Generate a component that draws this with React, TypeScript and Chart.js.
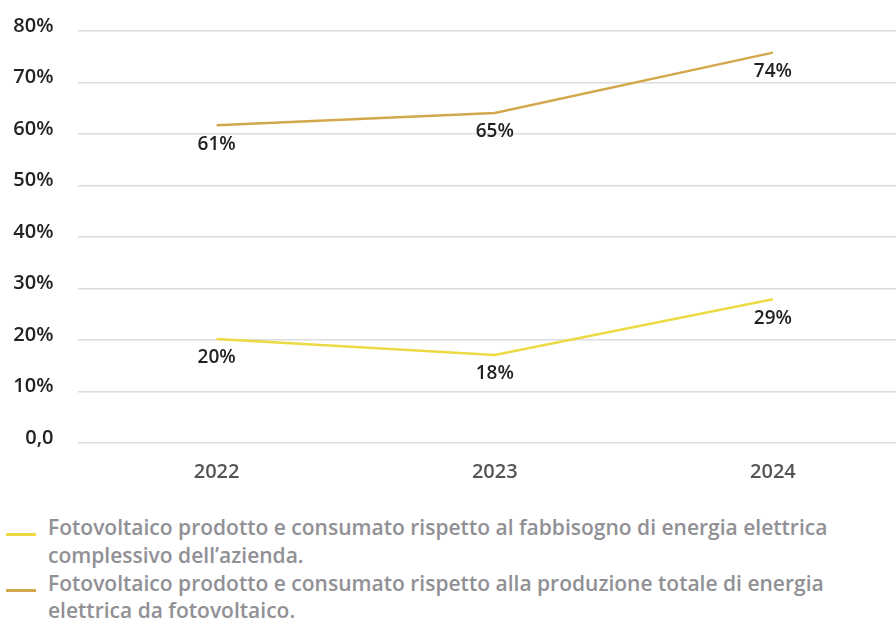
import React, { useEffect, useRef } from "react";
import { Chart, registerables } from "chart.js";

Chart.register(...registerables);

const categories = ["2022", "2023", "2024"];
const fabbisognoValues = [20.2, 17.1, 27.9];
const fabbisognoLabels = ["20%", "18%", "29%"];
const produzioneValues = [61.7, 64.1, 75.8];
const produzioneLabels = ["61%", "65%", "74%"];
const yTickLabels: Record<number, string> = { 0: "0,0", 10: "10%", 20: "20%", 30: "30%", 40: "40%", 50: "50%", 60: "60%", 70: "70%", 80: "80%" };
const legendLines1 = [
  "Fotovoltaico prodotto e consumato rispetto al fabbisogno di energia elettrica",
  "complessivo dell\u2019azienda.",
];
const legendLines2 = [
  "Fotovoltaico prodotto e consumato rispetto alla produzione totale di energia",
  "elettrica da fotovoltaico.",
];

const YELLOW = "#ecd944";
const GOLD = "#d3a84c";
const FONT = "'Open Sans', 'Noto Sans', sans-serif";

const labelPlugin = {
  id: "pointLabels",
  afterDatasetsDraw(chart: any) {
    const ctx = chart.ctx;
    ctx.save();
    ctx.font = `600 19px ${FONT}`;
    ctx.fillStyle = "#222222";
    ctx.textAlign = "center";
    ctx.textBaseline = "middle";
    chart.data.datasets.forEach((ds: any, i: number) => {
      const meta = chart.getDatasetMeta(i);
      meta.data.forEach((pt: any, j: number) => {
        ctx.fillText(ds.pointLabels[j], pt.x, pt.y + 19);
      });
    });
    ctx.restore();
  },
};

export default function App() {
  const ref = useRef<HTMLCanvasElement>(null);
  useEffect(() => {
    if (!ref.current) return;
    const chart = new Chart(ref.current, {
      type: "line",
      data: {
        labels: categories,
        datasets: [
          {
            label: legendLines1.join(" "),
            data: fabbisognoValues,
            borderColor: YELLOW,
            borderWidth: 2.5,
            pointRadius: 0,
            tension: 0,
            pointLabels: fabbisognoLabels,
          } as any,
          {
            label: legendLines2.join(" "),
            data: produzioneValues,
            borderColor: GOLD,
            borderWidth: 2.5,
            pointRadius: 0,
            tension: 0,
            pointLabels: produzioneLabels,
          } as any,
        ],
      },
      options: {
        animation: false,
        responsive: false,
        layout: { padding: { top: 31, right: 0, left: 0, bottom: 0 } },
        plugins: { legend: { display: false }, tooltip: { enabled: false } },
        scales: {
          x: {
            offset: true,
            grid: { display: false },
            border: { display: false },
            ticks: { color: "#555555", font: { family: FONT, size: 20, weight: "600" }, padding: 9 },
          },
          y: {
            min: 0,
            max: 80,
            afterFit: (s: any) => { s.width = 77.5; s.paddingTop = 0; s.paddingBottom = 0; },
            grid: { color: "#dcdcdc", lineWidth: 1.5, drawTicks: false },
            border: { display: false },
            ticks: {
              stepSize: 10,
              color: "#222222",
              padding: 24,
              labelOffset: -5,
              font: { family: FONT, size: 20, weight: "600" },
              callback: (v: any) => yTickLabels[v as number] ?? "",
            },
          },
        },
      } as any,
      plugins: [labelPlugin],
    });
    return () => chart.destroy();
  }, []);

  const items = [
    { color: YELLOW, lines: legendLines1 },
    { color: GOLD, lines: legendLines2 },
  ];
  return (
    <div style={{ position: "absolute", left: 0, top: 0, width: 896, height: 624, overflow: "hidden", background: "#fff" }}>
      <canvas ref={ref} width={912} height={493} style={{ position: "absolute", left: 0, top: 0, width: 912, height: 493 }} />
      <div style={{ position: "absolute", left: 6, top: 514, width: 890, fontFamily: FONT, fontWeight: 600, fontSize: 21, lineHeight: "27.8px", color: "#909095", whiteSpace: "nowrap" }}>
        {items.map((it, i) => (
          <div key={i} style={{ display: "flex", alignItems: "flex-start" }}>
            <div style={{ width: 30, height: 3, background: it.color, marginTop: 19, flexShrink: 0 }} />
            <div style={{ marginLeft: 12 }}>
              {it.lines.map((l, k) => (
                <div key={k}>{l}</div>
              ))}
            </div>
          </div>
        ))}
      </div>
    </div>
  );
}
